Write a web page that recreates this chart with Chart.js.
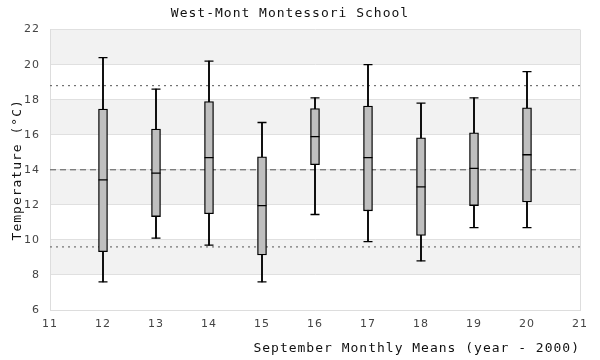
<!DOCTYPE html>
<html>
<head>
<meta charset="utf-8">
<script src="https://cdn.jsdelivr.net/npm/chart.js@4"></script>
<style>
  html,body{margin:0;padding:0;background:#fff;}
  #wrap{width:600px;height:360px;}
</style>
</head>
<body>
<div id="wrap"><canvas id="chart"></canvas></div>
<script>
// September monthly means, year - 2000
const years = [12, 13, 14, 15, 16, 17, 18, 19, 20];
const whiskerLow  = [7.6, 10.1, 9.7, 7.6, 11.45, 9.9, 8.8, 10.7, 10.7];
const q1          = [9.33, 11.33, 11.49, 9.14, 14.29, 11.66, 10.25, 11.96, 12.17];
const median      = [13.43, 13.81, 14.69, 11.96, 15.89, 14.69, 13.03, 14.08, 14.86];
const q3          = [17.47, 16.32, 17.89, 14.74, 17.49, 17.64, 15.83, 16.11, 17.54];
const whiskerHigh = [20.4, 18.6, 20.2, 16.7, 18.1, 20.0, 17.8, 18.1, 19.6];

const meanLine = 14.0;
const upperLine = 18.8;
const lowerLine = 9.6;

const xRange = [11, 21];
const yRange = [6, 22];

const MONO = "'DejaVu Sans Mono', monospace";

// shaded horizontal bands behind the plot
const bands = {
  id: 'bands',
  beforeDraw(chart){
    const {ctx, chartArea:a, scales:{y}} = chart;
    ctx.save();
    ctx.fillStyle = '#f2f2f2';
    for(let v = yRange[1]; v > yRange[0]; v -= 4){
      const top = y.getPixelForValue(v), bot = y.getPixelForValue(v-2);
      ctx.fillRect(a.left, top, a.right-a.left, bot-top);
    }
    ctx.restore();
    ctx.letterSpacing = '1px';
  }
};

function hline(v){ return xRange.map(x=>({x, y:v})); }

new Chart(document.getElementById('chart'), {
  type: 'bar',
  data: {
    datasets: [
      { type:'line', data:hline(upperLine), borderColor:'#555', borderWidth:1, borderDash:[2,4], pointRadius:0, order:5 },
      { type:'line', data:hline(meanLine), borderColor:'#555', borderWidth:1, borderDash:[6,4], pointRadius:0, order:5 },
      { type:'line', data:hline(lowerLine), borderColor:'#555', borderWidth:1, borderDash:[2,4], pointRadius:0, order:5 },
      { // whiskers
        data: years.map((x,i)=>({x, y:[whiskerLow[i], whiskerHigh[i]]})),
        backgroundColor:'#000', barThickness:1.2, grouped:false, order:4
      },
      { // boxes
        data: years.map((x,i)=>({x, y:[q1[i], q3[i]]})),
        backgroundColor:'#bfbfbf', borderColor:'#000', borderWidth:1.3, borderSkipped:false,
        barThickness:9, grouped:false, order:3
      },
      { type:'scatter', data: years.map((x,i)=>({x, y:median[i]})),
        pointStyle:'line', pointRadius:4.5, borderColor:'#000', borderWidth:1.3, order:1 },
      { type:'scatter', data: years.map((x,i)=>({x, y:whiskerHigh[i]})),
        pointStyle:'line', pointRadius:4.5, borderColor:'#000', borderWidth:1.3, order:1 },
      { type:'scatter', data: years.map((x,i)=>({x, y:whiskerLow[i]})),
        pointStyle:'line', pointRadius:4.5, borderColor:'#000', borderWidth:1.3, order:1 }
    ]
  },
  options: {
    responsive:true, maintainAspectRatio:false, animation:false,
    layout:{ padding:{ left:0, right:20, top:0, bottom:0 } },
    plugins:{
      legend:{ display:false },
      tooltip:{ enabled:false },
      title:{ display:true, text:'West-Mont Montessori School', color:'#111',
        font:{ family:MONO, size:13, weight:'normal' }, padding:{ top:6, bottom:8 } }
    },
    scales:{
      x:{
        type:'linear', min:xRange[0], max:xRange[1], offset:false,
        ticks:{ stepSize:1, color:'#444', font:{ family:'DejaVu Sans', size:11 }, padding:8 },
        grid:{ drawTicks:false, offset:false, color:c=>c.tick && c.tick.value===xRange[1] ? '#ddd' : 'rgba(0,0,0,0)' },
        border:{ color:'#ddd' },
        title:{ display:true, text:'September Monthly Means (year - 2000)', align:'end', color:'#111',
          font:{ family:MONO, size:13 }, padding:{ top:4, bottom:4 } },
        afterFit(s){ s.height = 50; }
      },
      y:{
        min:yRange[0], max:yRange[1],
        ticks:{ stepSize:2, color:'#444', font:{ family:'DejaVu Sans', size:11 }, padding:10 },
        grid:{ drawTicks:false, color:'#e0e0e0' },
        border:{ color:'#ddd' },
        title:{ display:true, text:'Temperature (°C)', color:'#111',
          font:{ family:MONO, size:13 }, padding:{ top:10, bottom:0 } },
        afterFit(s){ s.width = 50; }
      }
    }
  },
  plugins:[bands]
});
</script>
</body>
</html>
